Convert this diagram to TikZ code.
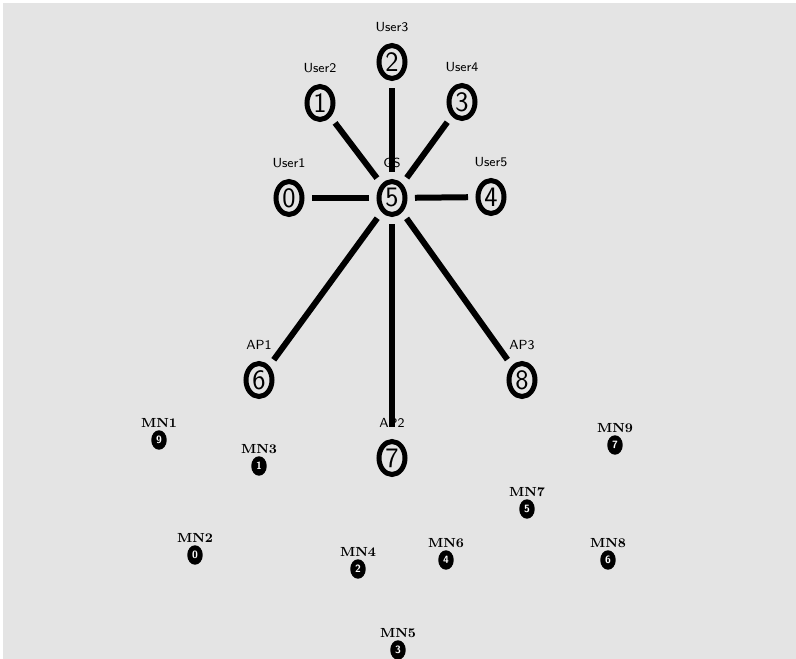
\documentclass[tikz,border=0pt]{standalone}
\usepackage{tikz}
\usetikzlibrary{shapes, positioning, backgrounds}
\usepackage{xcolor}
\definecolor{canvas}{HTML}{E4E4E4}

\begin{document}
\begin{tikzpicture}[x=0.02cm, y=-0.02cm,
    bignode/.style={ellipse, draw=black, line width=0.1cm, fill=canvas,
      minimum width=0.52cm, minimum height=0.66cm, inner sep=0pt,
      font=\sffamily\fontsize{16}{16}\selectfont},
    mnnode/.style={ellipse, fill=black, text=white,
      minimum width=0.31cm, minimum height=0.39cm, inner sep=0pt,
      font=\sffamily\bfseries\fontsize{6}{6}\selectfont},
    userlbl/.style={inner sep=1pt, font=\sffamily\fontsize{7.5}{8}\selectfont},
    mnlbl/.style={inner sep=0.5pt, font=\bfseries\fontsize{7.5}{8}\selectfont},
    link/.style={line width=0.12cm, shorten <=0.15cm, shorten >=0.15cm}]

  % canvas
  \useasboundingbox (0,0) rectangle (796,659);
  \fill[white] (0,0) rectangle (796,659);
  \fill[canvas] (3,3) rectangle (796,659);

  % users and ground station
  \node[bignode] (user1) at (289,198) {0};
  \node[bignode] (user2) at (320,103) {1};
  \node[bignode] (user3) at (392,62)  {2};
  \node[bignode] (user4) at (462,102) {3};
  \node[bignode] (user5) at (491,197) {4};
  \node[bignode] (gs)    at (392,198) {5};

  % access points
  \node[bignode] (ap1) at (259,380) {6};
  \node[bignode] (ap2) at (392,458) {7};
  \node[bignode] (ap3) at (522,380) {8};

  % labels
  \node[userlbl, above=0.18cm of user1] (lu1) {User1};
  \node[userlbl, above=0.18cm of user2] (lu2) {User2};
  \node[userlbl, above=0.18cm of user3] (lu3) {User3};
  \node[userlbl, above=0.18cm of user4] (lu4) {User4};
  \node[userlbl, above=0.18cm of user5] (lu5) {User5};
  \node[userlbl, above=0.18cm of gs]    (lgs) {GS};
  \node[userlbl, above=0.18cm of ap1]   (la1) {AP1};
  \node[userlbl, above=0.18cm of ap2]   (la2) {AP2};
  \node[userlbl, above=0.18cm of ap3]   (la3) {AP3};

  % links
  \foreach \n in {user1, user2, user3, user4, user5, ap1, ap3}
    \draw[link] (gs) -- (\n);
  \draw[link, shorten >=0.25cm] (gs) -- (ap2);

  % mobile nodes
  \node[mnnode] (mn1) at (159,440) {9};
  \node[mnnode] (mn2) at (195,555) {0};
  \node[mnnode] (mn3) at (259,466) {1};
  \node[mnnode] (mn4) at (358,569) {2};
  \node[mnnode] (mn5) at (398,650) {3};
  \node[mnnode] (mn6) at (446,560) {4};
  \node[mnnode] (mn7) at (527,509) {5};
  \node[mnnode] (mn8) at (608,560) {6};
  \node[mnnode] (mn9) at (615,445) {7};

  \node[mnlbl, above=0.02cm of mn1] (lm1) {MN1};
  \node[mnlbl, above=0.02cm of mn2] (lm2) {MN2};
  \node[mnlbl, above=0.02cm of mn3] (lm3) {MN3};
  \node[mnlbl, above=0.02cm of mn4] (lm4) {MN4};
  \node[mnlbl, above=0.02cm of mn5] (lm5) {MN5};
  \node[mnlbl, above=0.02cm of mn6] (lm6) {MN6};
  \node[mnlbl, above=0.02cm of mn7] (lm7) {MN7};
  \node[mnlbl, above=0.02cm of mn8] (lm8) {MN8};
  \node[mnlbl, above=0.02cm of mn9] (lm9) {MN9};
\end{tikzpicture}
\end{document}
